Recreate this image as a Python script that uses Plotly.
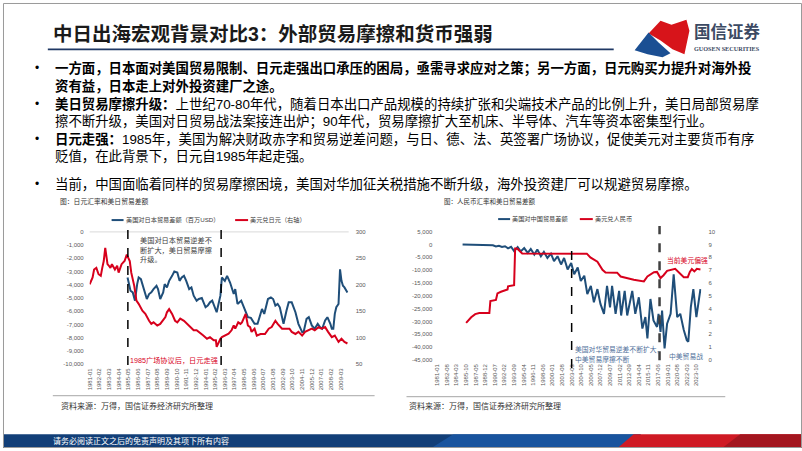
import plotly.graph_objects as go

W, H = 802, 451

# ---------------- data: Japan chart ----------------
jp_fx_dates = ["1981-01","1981-05","1981-07","1981-10","1982-01","1982-04","1982-06","1982-08","1982-10",
               "1983-01","1983-03","1983-05","1983-07","1983-11","1984-02","1984-04","1984-08","1984-12",
               "1985-03","1985-07","1985-09","1986-01","1986-04","1986-07","1986-12","1987-04","1987-09",
               "1987-12","1988-03","1988-08","1988-12","1989-03","1989-07","1989-09","1989-12","1990-04",
               "1990-08","1990-11","1991-03","1991-08","1991-12","1992-04","1992-09","1993-01","1993-06",
               "1993-10","1994-03","1994-07","1994-12","1995-03","1995-04","1995-06","1995-09","1995-11",
               "1996-03","1996-08","1996-12","1997-03","1997-05","1997-09","1997-12","1998-02","1998-07",
               "1998-10","1999-01","1999-03","1999-07","1999-10","2000-03","2000-09","2001-02","2001-06",
               "2001-11","2002-02","2002-08","2003-06","2003-09","2004-02","2004-06","2004-11","2005-03",
               "2005-08","2005-12","2006-04","2006-09","2007-01","2007-06","2007-10","2008-03","2008-07",
               "2008-12","2009-04","2009-08","2009-12"]
jp_fx_values = [201,214,229,232,220,217,232,245,270,
                239,236,232,239,229,236,223,239,245,
                257,245,223,198,170,164,151,145,132,
                126,129,123,126,132,139,148,154,145,
                132,129,136,132,126,120,114,114,107.5,
                104,98,101,95,95,82.5,89,98,101,
                104,107.5,114,123,117,129,126,129,145,
                123,120,111,117,104,107,107,117,120,
                132,126,117,117,111,107,111,104,111,
                114,117,114,120,117,120,111,101,104,
                92,98,92,89]

jp_tb_dates = ["1985-04","1985-06","1985-08","1985-11","1986-02","1986-05","1986-07","1986-10","1986-12",
               "1987-02","1987-04","1987-06","1987-09","1987-12","1988-03","1988-07","1988-09","1988-12",
               "1989-04","1989-06","1989-09","1989-12","1990-04","1990-07","1990-11","1991-02","1991-05",
               "1991-08","1991-11","1992-03","1992-06","1992-09","1993-01","1993-04","1993-08","1994-01",
               "1994-04","1994-07","1994-10","1995-02","1995-04","1995-09","1995-11","1996-03","1996-06",
               "1996-10","1997-03","1997-05","1997-08","1998-01","1998-05","1998-10","1999-02","1999-07",
               "1999-11","2000-05","2000-08","2001-01","2001-05","2001-08","2001-11","2002-02","2002-05",
               "2002-10","2003-02","2003-05","2003-09","2004-02","2004-06","2004-11","2005-01","2005-05",
               "2005-08","2005-12","2006-04","2006-08","2006-11","2007-02","2007-06","2007-09","2008-01",
               "2008-03","2008-05","2008-07","2008-09","2008-12","2009-02","2009-04","2009-06","2009-08",
               "2009-12"]
jp_tb_values = [-3450,-4075,-4450,-4575,-5200,-3950,-3450,-3575,-3950,
                -4325,-4700,-5075,-4700,-4575,-4325,-4075,-4325,-5075,
                -4575,-3950,-4200,-3700,-3325,-3000,-3075,-3700,-3450,
                -3325,-3700,-4325,-4200,-4825,-5200,-5075,-5000,-5700,
                -5575,-5325,-5200,-5700,-6075,-4825,-3450,-3700,-3325,
                -3825,-4700,-4325,-5450,-5200,-5700,-6450,-6500,-6950,
                -6950,-5825,-6200,-5075,-4950,-5075,-5575,-5450,-5700,
                -6950,-5950,-5325,-5325,-6075,-6950,-7575,-7575,-6575,
                -6450,-7075,-7325,-6950,-7200,-7325,-6700,-6450,-6950,
                -7325,-7325,-6200,-5700,-5450,-2825,-3700,-4075,-4200,
                -4575]

jp_x_labels = ["1981-01","1982-02","1983-03","1984-04","1985-05","1986-06","1987-07","1988-08","1989-09",
               "1990-10","1991-11","1992-12","1994-01","1995-02","1996-03","1997-04","1998-05","1999-06",
               "2000-07","2001-08","2002-09","2003-10","2004-11","2005-12","2007-01","2008-02","2009-03"]
jp_left_ticks = [0,-1000,-2000,-3000,-4000,-5000,-6000,-7000,-8000,-9000,-10000]
jp_left_labels = ["0","-1,000","-2,000","-3,000","-4,000","-5,000","-6,000","-7,000","-8,000","-9,000","-10,000"]
jp_right_ticks = [50,100,150,200,250,300]

# ---------------- data: China chart ----------------
cn_fx_dates = ["1985-10","1986-08","1987-04","1987-12","1989-08","1989-10","1990-09","1990-12","1991-07",
               "1992-08","1992-09","1993-09","1993-11","1994-03","1995-01","2005-09","2006-04","2007-06",
               "2008-04","2008-10","2010-09","2011-04","2013-06","2015-02","2015-09","2016-10","2017-04",
               "2017-11","2018-05","2018-12","2020-04","2020-11","2021-09","2022-05","2022-09","2023-01",
               "2023-06","2023-11","2024-06"]
cn_fx_values = [2.88,3.32,3.57,3.65,3.65,4.59,4.67,5.18,5.31,
                5.49,5.74,5.82,8.68,8.68,8.29,8.28,7.99,7.65,
                7.02,6.81,6.80,6.50,6.25,6.12,6.50,6.84,6.86,
                6.38,6.60,6.94,7.10,6.86,6.45,6.45,6.86,7.09,
                6.90,7.10,7.05]

cn_tb_dates = ["1985-03","1986-06","1987-06","1988-06","1989-06","1990-03","1990-09","1991-03","1991-09",
               "1992-03","1992-09","1993-03","1993-09","1994-04","1994-10","1995-05","1995-12","1996-06",
               "1997-01","1997-07","1998-02","1998-08","1999-03","1999-10","2000-04","2000-11","2001-06",
               "2001-12","2002-07","2003-02","2003-08","2004-03","2004-09","2005-04","2005-10","2006-05",
               "2006-11","2007-06","2007-12","2008-07","2009-01","2009-07","2009-11","2010-06","2011-01",
               "2011-05","2011-12","2012-05","2013-03","2013-09","2014-04","2014-11","2015-05","2015-09",
               "2016-03","2016-09","2017-04","2017-07","2017-11","2018-02","2018-07","2018-12","2019-07",
               "2020-01","2020-08","2021-02","2021-09","2022-03","2022-06","2022-11","2023-04","2023-10",
               "2024-06"]
cn_tb_values = [0,-100,-200,-150,-500,-300,-800,-500,-1000,
                -700,-1500,-900,-2600,-1000,-2700,-1400,-3300,-1800,
                -3960,-2000,-4600,-2900,-5250,-3600,-6530,-4600,-7800,
                -5300,-9730,-7200,-11650,-9000,-14230,-12200,-19350,-16150,
                -22540,-17400,-23200,-27040,-16150,-24500,-16150,-27040,-18080,
                -27700,-18080,-27700,-18080,-27040,-20600,-32800,-28300,-36650,
                -21270,-29600,-32150,-27040,-34080,-25770,-40500,-30900,-27040,
                -11650,-28300,-27040,-33330,-37300,-37900,-24460,-17420,-28300,
                -17420]

cn_x_labels = ["1981-01","1982-08","1984-03","1985-10","1987-05","1988-12","1990-07","1992-02","1993-09",
               "1995-04","1996-11","1998-06","2000-01","2001-08","2003-03","2004-10","2006-05","2007-12",
               "2009-07","2011-02","2012-09","2014-04","2015-11","2017-06","2019-01","2020-08","2022-03",
               "2023-10"]
cn_left_ticks = [5000,0,-5000,-10000,-15000,-20000,-25000,-30000,-35000,-40000,-45000]
cn_left_labels = ["5,000","0","-5,000","-10,000","-15,000","-20,000","-25,000","-30,000","-35,000","-40,000","-45,000"]
cn_right_ticks = [0,1,2,3,4,5,6,7,8,9,10]

# ---------------- styling helpers ----------------
def px(x):
    return x / W

def py(y):
    return 1 - y / H

CJK = "Liberation Sans, Noto Sans CJK SC"
NUM = "Liberation Sans"
BLUE = "#1f4e79"
RED = "#d7001c"
GRAY = "#595959"

fig = go.Figure()
fig.add_trace(go.Scatter(x=jp_tb_dates, y=jp_tb_values, mode="lines", xaxis="x", yaxis="y",
                         line=dict(color=BLUE, width=2), hoverinfo="skip"))
fig.add_trace(go.Scatter(x=jp_fx_dates, y=jp_fx_values, mode="lines", xaxis="x", yaxis="y2",
                         line=dict(color=RED, width=2), hoverinfo="skip"))
fig.add_trace(go.Scatter(x=cn_tb_dates, y=cn_tb_values, mode="lines", xaxis="x2", yaxis="y3",
                         line=dict(color=BLUE, width=2), hoverinfo="skip"))
fig.add_trace(go.Scatter(x=cn_fx_dates, y=cn_fx_values, mode="lines", xaxis="x2", yaxis="y4",
                         line=dict(color=RED, width=2), hoverinfo="skip"))

tick_font = dict(family=NUM, size=6, color=GRAY)
common_x = dict(type="date", showgrid=False, zeroline=False, showline=False, ticks="",
                tickangle=-90, tickfont=tick_font, ticklabelstandoff=2)
common_y = dict(showgrid=False, zeroline=False, showline=False, ticks="", tickfont=tick_font)

fig.update_layout(
    width=W, height=H, margin=dict(l=0, r=0, t=0, b=0),
    paper_bgcolor="white", plot_bgcolor="rgba(0,0,0,0)", showlegend=False,
    xaxis=dict(common_x, domain=[px(87), px(347)], range=["1981-01-01", "2010-01-22"], anchor="y",
               tickvals=[l + "-01" for l in jp_x_labels], ticktext=jp_x_labels),
    yaxis=dict(common_y, domain=[py(366), py(232)], range=[-10000, 0], anchor="x",
               tickvals=jp_left_ticks, ticktext=jp_left_labels, ticklabelstandoff=5),
    yaxis2=dict(common_y, overlaying="y", side="right", range=[50, 300], anchor="x",
                tickvals=jp_right_ticks, ticklabelstandoff=6),
    xaxis2=dict(common_x, domain=[px(436), px(701)], range=["1981-01-01", "2024-07-28"], anchor="y3",
                tickvals=[l + "-01" for l in cn_x_labels], ticktext=cn_x_labels),
    yaxis3=dict(common_y, domain=[py(361.7), py(231.7)], range=[-45000, 5000], anchor="x2",
                tickvals=cn_left_ticks, ticktext=cn_left_labels, ticklabelstandoff=4),
    yaxis4=dict(common_y, overlaying="y3", side="right", range=[0, 10], anchor="x2",
                tickvals=cn_right_ticks, ticklabelstandoff=6),
)

shapes = []
ann = []

def text(x, y, s, size, color="#000000", family=CJK, xanchor="left", yanchor="middle"):
    ann.append(dict(x=px(x), y=py(y), xref="paper", yref="paper", text=s, showarrow=False,
                    xanchor=xanchor, yanchor=yanchor, align="left", borderpad=0,
                    font=dict(family=family, size=size, color=color)))

def rect(x0, y0, x1, y1, color, **kw):
    shapes.append(dict(type="rect", xref="paper", yref="paper", x0=px(x0), x1=px(x1),
                       y0=py(y0), y1=py(y1), fillcolor=color, line=dict(width=0), layer="below", **kw))

def poly(points, color, opacity=1.0):
    d = "M " + " L ".join(f"{px(a):.5f},{py(b):.5f}" for a, b in points) + " Z"
    shapes.append(dict(type="path", xref="paper", yref="paper", path=d, fillcolor=color,
                       line=dict(width=0), opacity=opacity, layer="below"))

def hline(x0, x1, y, color, width=1, dash="solid"):
    shapes.append(dict(type="line", xref="paper", yref="paper", x0=px(x0), x1=px(x1), y0=py(y), y1=py(y),
                       line=dict(color=color, width=width, dash=dash)))

# slide frame
shapes.append(dict(type="rect", xref="paper", yref="paper", x0=px(0.5), x1=px(801.5), y0=py(450.5), y1=py(0.5),
                   line=dict(color="#9a9a9a", width=1), fillcolor="rgba(0,0,0,0)"))

# title + underline
text(49, 31, "<b>中日出海宏观背景对比3：外部贸易摩擦和货币强弱</b>", 19.5, "#1a1a1a")
hline(45, 613, 47, "#1f3864", 1.6)

# logo
poly([(648, 31), (660, 18), (671, 22), (686, 17), (689, 28), (684, 52), (672, 47), (660, 38)], "#d7141a")
poly([(634, 48), (648, 30), (658, 40), (670, 51), (662, 55), (647, 52)], "#1b4f93")
text(693, 29, "<b>国信证券</b>", 16.5, "#3c4a63")
text(693, 46, "<b>GUOSEN SECURITIES</b>", 6.2, "#3c4a63", family="Liberation Sans Narrow")

# bullets
for yy in [66, 102, 138, 183]:
    text(31, yy, "•", 12, "#000000", family=NUM)
lines = [
    (66, "<b>一方面，日本面对美国贸易限制、日元走强出口承压的困局，亟需寻求应对之策；另一方面，日元购买力提升对海外投</b>"),
    (84, "<b>资有益，日本走上对外投资建厂之途。</b>"),
    (102, "<b>美日贸易摩擦升级：</b>上世纪70-80年代，随着日本出口产品规模的持续扩张和尖端技术产品的比例上升，美日局部贸易摩"),
    (120, "擦不断升级，美国对日贸易战法案接连出炉；90年代，贸易摩擦扩大至机床、半导体、汽车等资本密集型行业。"),
    (138, "<b>日元走强：</b>1985年，美国为解决财政赤字和贸易逆差问题，与日、德、法、英签署广场协议，促使美元对主要货币有序"),
    (156, "贬值，在此背景下，日元自1985年起走强。"),
    (183, "当前，中国面临着同样的贸易摩擦困境，美国对华加征关税措施不断升级，海外投资建厂可以规避贸易摩擦。"),
]
for yy, s in lines:
    text(51, yy, s, 13.4, "#000000")

# chart titles
text(56, 201, "图：日元汇率和美日贸易差额", 6.8, "#333333")
text(442, 201, "图：人民币汇率和美日贸易差额", 6.5, "#333333")

# left chart: legend
hline(109, 121, 220, BLUE, 2)
text(122, 220, "美国对日本贸易差额（百万USD）", 6.2, "#404040")
hline(233, 246, 220, RED, 2)
text(247, 220, "美元兑日元（右轴）", 6.2, "#404040")
# top line of left plot
hline(87, 347, 232, "#d9d9d9", 1)
# dashed separators
for d in ["1985-04-15", "1995-10-01"]:
    shapes.append(dict(type="line", xref="x", yref="paper", x0=d, x1=d, y0=py(367), y1=py(230),
                       line=dict(color="#000000", width=1.5, dash="dash")))
text(137, 241, "美国对日本贸易逆差不", 7.2, "#404040")
text(137, 250.5, "断扩大，美日贸易摩擦", 7.2, "#404040")
text(137, 260, "升级。", 7.2, "#404040")
text(126, 362, "1985广场协议后，日元走强", 7.2, "#d7001c")

# right chart: legend
hline(497, 509, 219, BLUE, 2)
text(510, 219, "美国对中国贸易差额", 6.2, "#404040")
hline(579, 592, 219, RED, 2)
text(593, 219, "美元兑人民币", 6.2, "#404040")
shapes.append(dict(type="line", xref="x2", yref="paper", x0="2003-03-01", x1="2003-03-01", y0=py(370), y1=py(246),
                   line=dict(color="#000000", width=1.5, dash="dash")))
shapes.append(dict(type="line", xref="x2", yref="paper", x0="2017-09-01", x1="2017-09-01", y0=py(362), y1=py(226),
                   line=dict(color="#404040", width=2.5, dash="dash")))
text(573, 351, "美国对华贸易逆差不断扩大，", 6.8, "#4f6f9a")
text(573, 361, "中美贸易摩擦不断", 6.8, "#4f6f9a")
text(667, 358, "中美贸易战", 6.8, "#4f6f9a")
text(665, 261, "当前美元偏强", 6.8, "#d7001c")

# source lines
hline(50, 373, 398, "#a6a6a6", 1)
hline(405, 725, 399, "#a6a6a6", 1)
text(57, 408, "资料来源：万得，国信证券经济研究所整理", 8, "#333333")
text(407, 408, "资料来源：万得，国信证券经济研究所整理", 8, "#333333")

# footer band
rect(0, 437, 640, 451, "#123f78")
poly([(430, 451), (452, 437), (640, 437), (640, 451)], "#1c5cab", 0.75)
poly([(617, 451), (633, 437), (802, 437), (802, 451)], "#cf1a24")
poly([(722, 451), (740, 437), (802, 437), (802, 451)], "#a3161f")
text(49, 444, "请务必阅读正文之后的免责声明及其项下所有内容", 8, "#ffffff")

fig.update_layout(shapes=shapes, annotations=ann)
fig.write_html("out.html")
